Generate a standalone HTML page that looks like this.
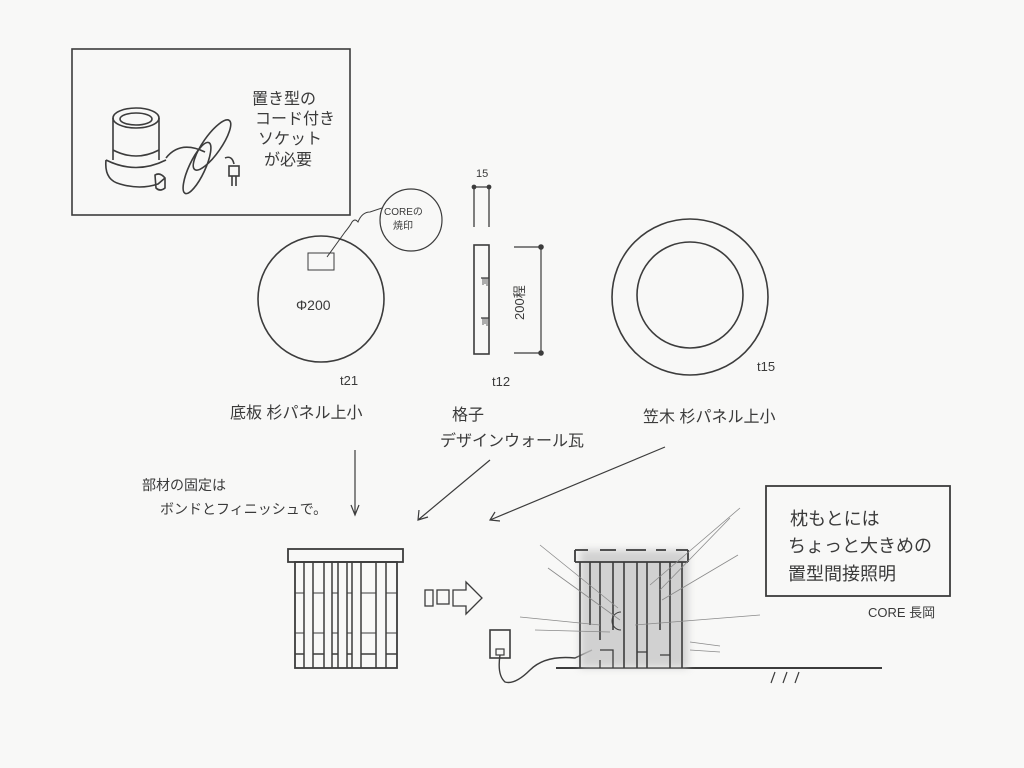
<!DOCTYPE html>
<html><head><meta charset="utf-8"><style>
html,body{margin:0;padding:0;background:#f8f8f7;}
svg{display:block}
text{font-family:"Liberation Sans","Noto Sans CJK JP",sans-serif;fill:#3a3a3a;}
</style></head><body>
<svg width="1024" height="768" viewBox="0 0 1024 768" xmlns="http://www.w3.org/2000/svg">
<defs>
<filter id="blur"><feGaussianBlur stdDeviation="4"/></filter>
</defs>
<rect width="1024" height="768" fill="#f8f8f7"/>
<g stroke="#3c3c3c" fill="none" stroke-width="1.6">
<!-- top-left box -->
<rect x="72" y="49" width="278" height="166"/>
<!-- lamp socket -->
<ellipse cx="136" cy="118" rx="23" ry="10"/>
<ellipse cx="136" cy="119" rx="16" ry="6"/>
<path d="M113 118 V160 M159 118 V160"/>
<path d="M113 150 Q136 162 159 150"/>
<path d="M106 160 Q104 180 120 184 Q140 190 158 184 L165 178"/>
<path d="M106 160 Q136 175 166 160"/>
<path d="M155 175 Q160 172 165 178 L165 188 Q160 192 156 188 Z"/>
<path d="M166 158 Q180 140 205 152"/>
<ellipse cx="212" cy="145" rx="9" ry="30" transform="rotate(35 212 145)"/>
<ellipse cx="197" cy="168" rx="8" ry="28" transform="rotate(25 197 168)"/>
<path d="M225 158 Q232 155 234 164"/>
<rect x="229" y="166" width="10" height="10"/>
<path d="M232 176 V186 M236 176 V186"/>
<!-- base circle -->
<circle cx="321" cy="299" r="63"/>
<rect x="308" y="253" width="26" height="17" stroke-width="1"/>
<circle cx="411" cy="220" r="31" stroke-width="1.2"/>
<path d="M327 257 L345 232 Q350 226 352 222 Q355 218 358 222 Q362 212 370 212 L382 208" stroke-width="1"/>
<!-- section piece -->
<path d="M474 187 V227 M489 187 V227 M474 187 H489" stroke-width="1.3"/>
<circle cx="474" cy="187" r="1.6" fill="#3c3c3c"/><circle cx="489" cy="187" r="1.6" fill="#3c3c3c"/>
<rect x="474" y="245" width="15" height="109" stroke-width="1.6"/>
<path d="M489 278 H481 M489 318 H481" stroke-width="1.2"/>
<path d="M483 278 V285 M485 278 V284 M487 278 V286 M483 318 V325 M485 318 V324 M487 318 V326" stroke-width="0.8"/>
<path d="M514 247 H541 V353 H514" stroke-width="1.2"/>
<circle cx="541" cy="247" r="2" fill="#3c3c3c"/><circle cx="541" cy="353" r="2" fill="#3c3c3c"/>
<!-- ring -->
<circle cx="690" cy="297" r="78"/>
<circle cx="690" cy="295" r="53"/>
<!-- arrows -->
<path d="M355 450 V515 M351 505 L355 515 L359 505" stroke-width="1.2"/>
<path d="M490 460 L418 520 M419 510 L418 520 L428 517" stroke-width="1.2"/>
<path d="M665 447 L490 520 M495 512 L490 520 L500 521" stroke-width="1.2"/>
<!-- left lamp -->
<rect x="288" y="549" width="115" height="13" stroke-width="1.8"/>
<rect x="295" y="562" width="102" height="106" stroke-width="1.8"/>
<g stroke-width="1.5">
<path d="M304 562 V668 M313 562 V668 M324 562 V668 M332 562 V668 M338 562 V668 M347 562 V668 M352 562 V668 M361 562 V668 M376 562 V668 M386 562 V668"/>
<path d="M295 654 H304 M313 654 H324 M332 654 H338 M347 654 H352 M361 654 H376 M386 654 H397"/>
<path d="M295 593 H304 M313 593 H324 M332 593 H338 M347 593 H352 M361 593 H376 M386 593 H397 M295 633 H304 M313 633 H324 M332 633 H338 M347 633 H352 M361 633 H376 M386 633 H397" stroke-width="1.1"/>
</g>
<!-- arrow mid -->
<rect x="425" y="590" width="8" height="16" stroke-width="1.3"/>
<rect x="437" y="590" width="12" height="14" stroke-width="1.3"/>
<path d="M453 590 H466 V582 L482 598 L466 614 V606 H453 Z" stroke-width="1.3"/>
<!-- outlet -->
<rect x="490" y="630" width="20" height="28" stroke-width="1.6"/>
<rect x="496" y="649" width="8" height="6" stroke-width="1.2"/>
<path d="M500 655 Q497 675 505 682 Q515 685 530 670 Q545 655 575 658 L592 650" stroke-width="1.4"/>
<!-- ground -->
<path d="M556 668 H882" stroke-width="2"/>
<path d="M775 672 L771 683 M787 672 L783 683 M799 672 L795 683" stroke-width="1.2"/>
</g>
<!-- right lamp glow -->
<g filter="url(#blur)" fill="#c8c8c8" opacity="0.8">
<rect x="580" y="550" width="108" height="118"/>
</g>
<g stroke="#3c3c3c" fill="none" stroke-width="1.8">
<path d="M575 550 H588 M600 550 H616 M626 550 H646 M656 550 H666 M676 550 H688 M575 550 V562 M688 550 V562 M575 562 H688" stroke-dasharray="none"/>
<path d="M580 562 V668 M590 562 V625 M600 562 V640 M613 562 V630 M624 562 V668 M637 562 V668 M647 562 V668 M660 562 V630 M670 562 V668 M682 562 V668" stroke-width="1.6"/>
<path d="M600 650 H613 V668 M637 652 H647 M660 655 H670 M600 660 V668" stroke-width="1.3"/>
<path d="M621 612 A8 8 0 0 0 621 630" stroke-width="1"/>
</g>
<g stroke="#8a8a8a" stroke-width="0.8">
<path d="M540 545 L618 608 M548 568 L620 620 M520 617 L600 625 M535 630 L610 632 M740 508 L650 585 M730 518 L660 590 M738 555 L662 600 M690 642 L720 646 M690 650 L720 652 M635 625 L760 615"/>
</g>
<!-- right box -->
<rect x="766" y="486" width="184" height="110" fill="none" stroke="#3c3c3c" stroke-width="1.8"/>
<!-- texts -->
<g font-size="16">
<text x="252" y="104">置き型の</text>
<text x="255" y="124">コード付き</text>
<text x="258" y="144">ソケット</text>
<text x="264" y="165">が必要</text>
<text x="230" y="418">底板 杉パネル上小</text>
<text x="452" y="420">格子</text>
<text x="440" y="446">デザインウォール瓦</text>
<text x="643" y="422">笠木 杉パネル上小</text>
<text x="142" y="490" font-size="14">部材の固定は</text>
<text x="160" y="514" font-size="14">ボンドとフィニッシュで。</text>
<text x="790" y="525" font-size="18">枕もとには</text>
<text x="788" y="552" font-size="18">ちょっと大きめの</text>
<text x="788" y="580" font-size="18">置型間接照明</text>
</g>
<g font-size="13">
<text x="296" y="310" font-size="14">Φ200</text>
<text x="384" y="215" font-size="10">COREの</text>
<text x="393" y="229" font-size="10">焼印</text>
<text x="476" y="177" font-size="11">15</text>
<text x="340" y="385">t21</text>
<text x="492" y="386">t12</text>
<text x="757" y="371">t15</text>
<text x="868" y="617">CORE 長岡</text>
<text transform="translate(524 320) rotate(-90)" font-size="13">200程</text>
</g>
</svg>
</body></html>
